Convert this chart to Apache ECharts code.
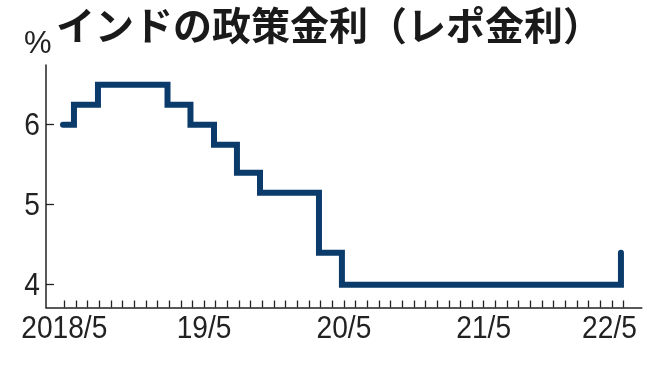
<!DOCTYPE html>
<html>
<head>
<meta charset="utf-8">
<script src="https://cdn.jsdelivr.net/npm/echarts@6/dist/echarts.min.js"></script>
<style>
html,body{margin:0;padding:0;background:#fff;}
#c{width:666px;height:371px;}
</style>
</head>
<body>
<div id="c"></div>
<script>
// Months counted from 2018/5 (0 = 2018/5, 12 = 2019/5 ...)
var changeMonths = [-0.11, 0.83, 2.89, 8.86, 10.83, 12.85, 14.82, 16.8, 21.86, 23.83, 47.78];
var rates = [6.00, 6.25, 6.50, 6.25, 6.00, 5.75, 5.40, 5.15, 4.40, 4.00, 4.40];
var labelMonths = [0, 12, 24, 36, 48];
var tickLabels = ['2018/5', '19/5', '20/5', '21/5', '22/5'];
var yTicks = [4, 5, 6];
var yTickLabels = ['4', '5', '6'];
var titleText = 'インドの政策金利（レポ金利）';
var unitText = '%';

var monthTicks = [];
for (var m = 0; m <= 48; m++) monthTicks.push(m);

var seriesData = changeMonths.map(function (x, i) { return [x, rates[i]]; });

var X_MIN = -1.57, X_MAX = 49.57, Y_MIN = 3.715, Y_MAX = 6.746;
var numFont = '"Liberation Sans", Arial, sans-serif';
var NUM_SIZE = 32, NUM_SCALE = 0.88, TXT = '#222';

var chart = echarts.init(document.getElementById('c'), null, {renderer: 'canvas'});
chart.setOption({
  backgroundColor: '#ffffff',
  animation: false,
  title: {
    text: titleText,
    left: 51,
    top: 1,
    textStyle: {
      fontFamily: '"Noto Sans CJK JP", sans-serif',
      fontWeight: 'bold',
      fontSize: 39,
      color: '#1a1a1a'
    }
  },
  grid: {left: 46, right: 24.2, top: 65, bottom: 63.5, containLabel: false},
  xAxis: {
    type: 'value',
    min: X_MIN,
    max: X_MAX,
    splitLine: {show: false},
    axisLine: {show: true, onZero: false, lineStyle: {color: TXT, width: 1.5}},
    axisTick: {show: true, inside: true, length: 7, customValues: monthTicks, lineStyle: {color: TXT, width: 1.3}},
    axisLabel: {show: false}
  },
  yAxis: {
    type: 'value',
    min: Y_MIN,
    max: Y_MAX,
    splitLine: {show: false},
    axisLine: {show: true, onZero: false, lineStyle: {color: TXT, width: 1.5}},
    axisTick: {show: true, inside: true, length: 8, customValues: yTicks, lineStyle: {color: TXT, width: 1.3}},
    axisLabel: {show: false}
  },
  series: [{
    type: 'line',
    step: 'end',
    data: seriesData,
    showSymbol: false,
    symbol: 'none',
    lineStyle: {color: '#0b3b6b', width: 6, cap: 'round', join: 'miter'},
    silent: true
  }]
});

// Tick labels placed through the chart's own scales (condensed by horizontal scaling)
var g = [{
  type: 'text', id: 'unit', x: 24, y: 29,
  style: {text: unitText, fontFamily: numFont, fontSize: 31, fill: TXT, textAlign: 'left', textVerticalAlign: 'top'}
}];
labelMonths.forEach(function (mo, i) {
  var p = chart.convertToPixel({gridIndex: 0}, [mo, Y_MIN]);
  var shift = (i === labelMonths.length - 1) ? -14 : 0;
  g.push({
    type: 'text', id: 'xl' + i, x: p[0] + shift, y: p[1] + 6, scaleX: NUM_SCALE,
    style: {text: tickLabels[i], fontFamily: numFont, fontSize: NUM_SIZE, fill: TXT, textAlign: 'center', textVerticalAlign: 'top'}
  });
});
yTicks.forEach(function (v, i) {
  var p = chart.convertToPixel({gridIndex: 0}, [X_MIN, v]);
  g.push({
    type: 'text', id: 'yl' + i, x: p[0] - 6, y: p[1] + 1, scaleX: NUM_SCALE,
    style: {text: yTickLabels[i], fontFamily: numFont, fontSize: NUM_SIZE, fill: TXT, textAlign: 'right', textVerticalAlign: 'middle'}
  });
});
chart.setOption({graphic: g});
</script>
</body>
</html>
